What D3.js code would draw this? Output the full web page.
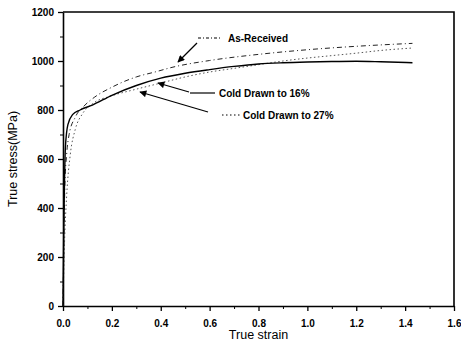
<!DOCTYPE html>
<html>
<head>
<meta charset="utf-8">
<script src="https://cdn.jsdelivr.net/npm/d3@7"></script>
<style>
  body { margin: 0; background: #fff; }
  text { font-family: "Liberation Sans", Arial, sans-serif; }
</style>
</head>
<body>
<svg id="chart"></svg>
<script>
const WIDTH = 461;
const HEIGHT = 347;
const MARGIN = {top: 12, right: 7, bottom: 41, left: 63};

const X_TICKS = [0, 0.2, 0.4, 0.6, 0.8, 1.0, 1.2, 1.4, 1.6];
const Y_TICKS = [0, 200, 400, 600, 800, 1000, 1200];

// [strain, stress]
const asReceived = [
    [0, 0], [0.004, 300], [0.008, 500], [0.015, 620], [0.025, 700], [0.05, 770],
    [0.09, 820], [0.13, 853], [0.2, 893], [0.24, 912], [0.3, 935], [0.376, 955],
    [0.45, 975], [0.6, 1002], [0.8, 1027], [1.0, 1046], [1.2, 1060], [1.43, 1072]
];
const coldDrawn16 = [
    [0, 0], [0.003, 300], [0.006, 500], [0.01, 650], [0.02, 740], [0.04, 782],
    [0.07, 800], [0.12, 820], [0.2, 860], [0.3, 900], [0.4, 930], [0.5, 950],
    [0.6, 965], [0.7, 978], [0.8, 988], [0.9, 993], [1.0, 996], [1.1, 998],
    [1.2, 999], [1.3, 997], [1.43, 993]
];
const coldDrawn27 = [
    [0, 0], [0.006, 250], [0.015, 450], [0.03, 620], [0.05, 720], [0.08, 785],
    [0.12, 825], [0.2, 858], [0.3, 885], [0.4, 910], [0.5, 935], [0.6, 955],
    [0.7, 970], [0.8, 985], [0.9, 1000], [1.0, 1012], [1.1, 1022], [1.2, 1032],
    [1.3, 1043], [1.43, 1053]
];

const svg = d3.select("#chart")
    .attr("width", WIDTH)
    .attr("height", HEIGHT);

const x = d3.scaleLinear()
    .domain([0, 1.6])
    .range([MARGIN.left, WIDTH - MARGIN.right]);
const y = d3.scaleLinear()
    .domain([0, 1200])
    .range([HEIGHT - MARGIN.bottom, MARGIN.top]);

svg.append("defs").append("marker")
    .attr("id", "head")
    .attr("viewBox", "0 0 10 10")
    .attr("refX", 9).attr("refY", 5)
    .attr("markerWidth", 9).attr("markerHeight", 7)
    .attr("markerUnits", "userSpaceOnUse")
    .attr("orient", "auto")
    .append("path")
    .attr("d", "M0,0L10,5L0,10z")
    .attr("fill", "#000");

// minor ticks
svg.append("g")
    .attr("transform", `translate(0,${y(0)})`)
    .call(d3.axisBottom(x).tickValues(d3.range(0.1, 1.6, 0.2)).tickSize(3).tickFormat(""))
    .call(g => g.select(".domain").remove());
svg.append("g")
    .attr("transform", `translate(${x(0)},0)`)
    .call(d3.axisLeft(y).tickValues(d3.range(100, 1200, 200)).tickSize(3).tickFormat(""))
    .call(g => g.select(".domain").remove());

const xAxis = svg.append("g")
    .attr("transform", `translate(0,${y(0)})`)
    .call(d3.axisBottom(x).tickValues(X_TICKS).tickSize(5).tickSizeOuter(0)
        .tickFormat(d3.format(".1f")));
const yAxis = svg.append("g")
    .attr("transform", `translate(${x(0)},0)`)
    .call(d3.axisLeft(y).tickValues(Y_TICKS).tickSize(5).tickSizeOuter(0)
        .tickFormat(d3.format("d")));

[xAxis, yAxis].forEach(g => {
    g.select(".domain").attr("stroke-width", 1.6);
    g.selectAll(".tick line").attr("stroke-width", 1.3);
    g.selectAll("text")
        .attr("font-size", 10)
        .attr("font-weight", "bold")
        .attr("font-family", "Liberation Sans, Arial, sans-serif");
});
xAxis.selectAll("text").attr("dy", "1.25em");
yAxis.selectAll("text").attr("x", -9);

// frame top and right
svg.append("path")
    .attr("d", `M${x(0)},${y(1200)}H${x(1.6)}V${y(0)}`)
    .attr("fill", "none")
    .attr("stroke", "#000")
    .attr("stroke-width", 1.6);

const line = d3.line()
    .x(d => x(d[0]))
    .y(d => y(d[1]))
    .curve(d3.curveMonotoneX);

svg.append("path").datum(asReceived)
    .attr("d", line)
    .attr("fill", "none").attr("stroke", "#222").attr("stroke-width", 1)
    .attr("stroke-dasharray", "5,3,1,3");
svg.append("path").datum(coldDrawn27)
    .attr("fill", "none").attr("d", line)
    .attr("stroke", "#555").attr("stroke-width", 1)
    .attr("stroke-dasharray", "1.5,2.5");
svg.append("path").datum(coldDrawn16)
    .attr("fill", "none").attr("d", line)
    .attr("stroke", "#000").attr("stroke-width", 1.4);

// annotations
const notes = [
    {text: "As-Received", tx: 228, ty: 42, seg: [198, 222, 38], dash: "3,2,1,2", arrow: [197, 43, 178, 62]},
    {text: "Cold Drawn to 16%", tx: 219, ty: 97, seg: [190, 215, 93], dash: null, arrow: [189, 92, 158, 83]},
    {text: "Cold Drawn to 27%", tx: 243, ty: 119, seg: [222, 240, 115], dash: "1.5,2.5", arrow: [208, 112, 140, 92]}
];
notes.forEach(n => {
    svg.append("line")
        .attr("x1", n.seg[0]).attr("x2", n.seg[1])
        .attr("y1", n.seg[2]).attr("y2", n.seg[2])
        .attr("stroke", "#000").attr("stroke-width", 1.2)
        .attr("stroke-dasharray", n.dash);
    svg.append("line")
        .attr("x1", n.arrow[0]).attr("y1", n.arrow[1])
        .attr("x2", n.arrow[2]).attr("y2", n.arrow[3])
        .attr("stroke", "#000").attr("stroke-width", 1.2)
        .attr("marker-end", "url(#head)");
    svg.append("text")
        .attr("x", n.tx).attr("y", n.ty)
        .attr("font-size", 10).attr("font-weight", "bold")
        .text(n.text);
});

svg.append("text")
    .attr("x", (x(0) + x(1.6)) / 2).attr("y", 339)
    .attr("text-anchor", "middle").attr("font-size", 12.5)
    .text("True strain");
svg.append("text")
    .attr("transform", `translate(17,${(y(0) + y(1200)) / 2}) rotate(-90)`)
    .attr("text-anchor", "middle").attr("font-size", 12.5)
    .text("True stress(MPa)");
</script>
</body>
</html>
